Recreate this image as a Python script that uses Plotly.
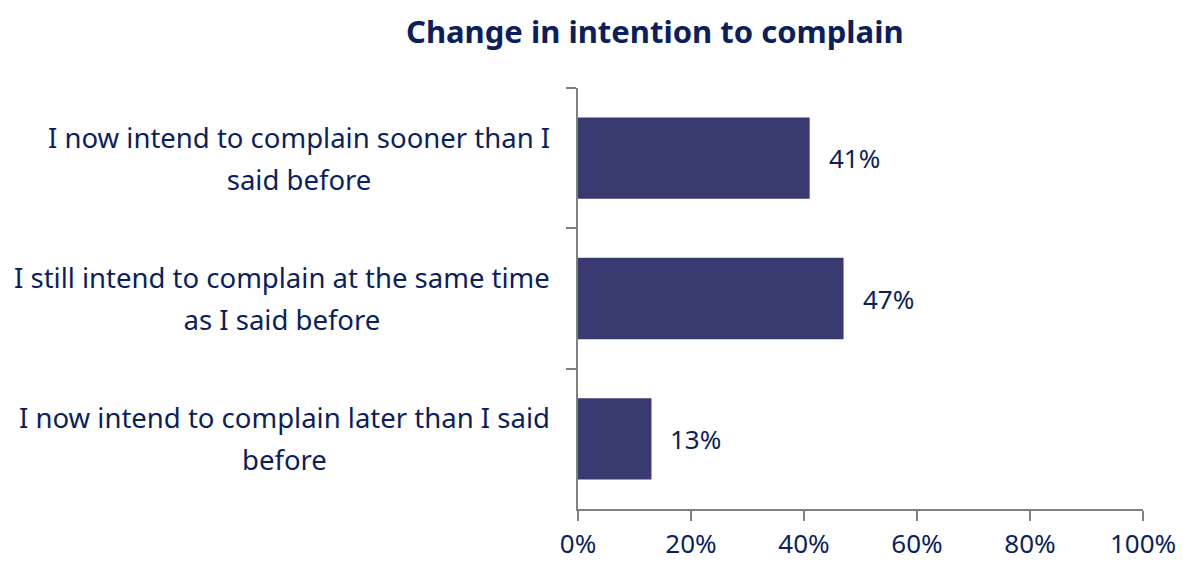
import plotly.graph_objects as go

# Survey responses: change in intention to complain
categories = [
    "I now intend to complain sooner than I<br>said before",
    "I still intend to complain at the same time<br>as I said before",
    "I now intend to complain later than I said<br>before",
]
shares = [0.41, 0.47, 0.13]
value_labels = ["41%", "47%", "13%"]

TEXT = "#0b1f5e"
BAR = "#393a6f"
AXIS = "#808080"
FONT = "Noto Sans"

fig = go.Figure(
    go.Bar(
        x=shares,
        y=categories,
        orientation="h",
        marker=dict(color=BAR, line=dict(width=0)),
        width=0.58,
        hoverinfo="skip",
    )
)

annotations = []
# value labels just past each bar end
for cat, val, lab in zip(categories, shares, value_labels):
    annotations.append(dict(
        x=val, y=cat, xref="x", yref="y", text=lab, showarrow=False,
        xanchor="left", yanchor="middle", xshift=17,
        font=dict(family=FONT, size=26, color=TEXT),
    ))
# category labels: centred lines in a right-aligned block, wide line spacing
for cat in categories:
    annotations.append(dict(
        x=0, y=cat, xref="paper", yref="y",
        text=f"<span style='font-size:27.5px'>{cat}</span>",
        showarrow=False, xanchor="right", yanchor="middle", align="center",
        xshift=-26,
        font=dict(family=FONT, size=32, color=TEXT),
    ))
# chart title, positioned in pixel terms relative to the plot area
annotations.append(dict(
    x=(655 - 578) / (1143 - 578), y=1 + (88 - 31) / (509 - 88),
    xref="paper", yref="paper", text="<b>Change in intention to complain</b>",
    showarrow=False, xanchor="center", yanchor="middle",
    font=dict(family=FONT, size=31, color=TEXT),
))

fig.update_layout(
    width=1183, height=561,
    margin=dict(l=578, r=40, t=88, b=52, autoexpand=False),
    paper_bgcolor="white", plot_bgcolor="white",
    showlegend=False,
    annotations=annotations,
    xaxis=dict(
        range=[0, 1], tickvals=[0, 0.2, 0.4, 0.6, 0.8, 1.0], tickformat=".0%",
        showgrid=False, zeroline=False, automargin=False,
        showline=True, linecolor=AXIS, linewidth=2,
        ticks="outside", ticklen=10, tickwidth=2, tickcolor=AXIS,
        ticklabelstandoff=1,
        tickfont=dict(family=FONT, size=26, color=TEXT),
        fixedrange=True,
    ),
    yaxis=dict(
        type="category", autorange="reversed", automargin=False,
        showticklabels=False, showgrid=False, zeroline=False,
        showline=True, linecolor=AXIS, linewidth=2,
        ticks="outside", tickson="boundaries", ticklen=10, tickwidth=2, tickcolor=AXIS,
        fixedrange=True,
    ),
)

fig.write_html("out.html", config={"displayModeBar": False})
